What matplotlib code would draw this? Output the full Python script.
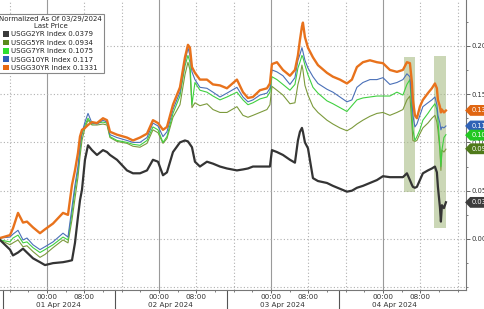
import matplotlib
matplotlib.use("Agg")
import matplotlib.pyplot as plt
import matplotlib.transforms as mtransforms
from matplotlib.patches import Patch, Rectangle, Polygon
from matplotlib.ticker import MultipleLocator, FixedLocator
import numpy as np

# hours from 01 Apr 2024 00:00
hours = [-10.07, -7.93, -7.29, -6.21, -5.14, -4.29, -3.00, -1.50, -0.43, 1.29,
         3.43, 4.50, 5.36, 6.00, 6.64, 7.07, 7.50, 8.14, 8.79, 9.64,
         10.71, 12.00, 12.86, 13.50, 15.00, 17.14, 18.43, 19.93, 21.43, 22.71,
         23.79, 24.86, 25.71, 27.00, 28.50, 29.57, 30.21, 30.64, 31.07, 31.71,
         32.78, 34.28, 35.57, 37.07, 38.57, 40.71, 42.00, 43.07, 44.14, 45.64,
         47.14, 47.78, 48.21, 49.28, 50.57, 52.07, 53.14, 53.78, 54.21, 54.64,
         54.85, 55.28, 55.93, 57.00, 58.07, 60.00, 61.28, 62.78, 64.28, 65.35,
         66.42, 67.71, 69.21, 70.71, 72.00, 73.49, 75.00, 76.28, 77.14, 77.78,
         78.21, 78.42, 78.85, 79.28, 79.92, 80.56, 81.64, 82.49, 83.14, 83.56,
         83.78, 84.21, 84.42, 84.64, 85.07, 85.50]

usgg2yr = [-0.001, -0.011, -0.017, -0.014, -0.010, -0.014, -0.020, -0.024, -0.027, -0.025,
           -0.024, -0.023, -0.022, -0.004, 0.023, 0.040, 0.051, 0.082, 0.097, 0.092,
           0.087, 0.092, 0.090, 0.087, 0.082, 0.071, 0.068, 0.068, 0.071, 0.082,
           0.080, 0.066, 0.069, 0.090, 0.100, 0.102, 0.101, 0.098, 0.095, 0.080,
           0.075, 0.080, 0.078, 0.075, 0.073, 0.071, 0.072, 0.073, 0.075, 0.075,
           0.075, 0.075, 0.092, 0.090, 0.087, 0.082, 0.079, 0.102, 0.111, 0.115,
           0.111, 0.100, 0.094, 0.063, 0.060, 0.058, 0.055, 0.052, 0.049, 0.050,
           0.053, 0.055, 0.058, 0.061, 0.065, 0.064, 0.064, 0.064, 0.068, 0.061,
           0.056, 0.054, 0.053, 0.054, 0.061, 0.068, 0.071, 0.073, 0.075, 0.069,
           0.054, 0.033, 0.018, 0.035, 0.032, 0.038]

usgg5yr = [-0.001, -0.006, -0.004, -0.001, -0.008, -0.007, -0.013, -0.019, -0.016, -0.009,
           -0.001, -0.004, 0.020, 0.042, 0.064, 0.085, 0.102, 0.115, 0.123, 0.118,
           0.118, 0.119, 0.118, 0.105, 0.101, 0.099, 0.096, 0.095, 0.099, 0.113,
           0.110, 0.099, 0.104, 0.126, 0.139, 0.170, 0.183, 0.175, 0.136, 0.141,
           0.138, 0.140, 0.134, 0.131, 0.131, 0.137, 0.128, 0.126, 0.128, 0.131,
           0.134, 0.139, 0.158, 0.154, 0.149, 0.140, 0.141, 0.160, 0.168, 0.180,
           0.175, 0.159, 0.149, 0.137, 0.131, 0.123, 0.119, 0.115, 0.112, 0.115,
           0.119, 0.123, 0.127, 0.130, 0.131, 0.128, 0.131, 0.134, 0.144, 0.148,
           0.118, 0.102, 0.101, 0.102, 0.109, 0.115, 0.120, 0.125, 0.128, 0.121,
           0.113, 0.092, 0.071, 0.092, 0.090, 0.093]

usgg7yr = [-0.001, -0.003, 0.001, 0.004, -0.004, -0.003, -0.009, -0.014, -0.011, -0.006,
           0.002, -0.001, 0.027, 0.051, 0.071, 0.092, 0.108, 0.118, 0.125, 0.119,
           0.120, 0.121, 0.120, 0.106, 0.102, 0.100, 0.098, 0.097, 0.102, 0.116,
           0.113, 0.100, 0.106, 0.130, 0.148, 0.179, 0.190, 0.183, 0.139, 0.162,
           0.154, 0.152, 0.148, 0.144, 0.147, 0.152, 0.144, 0.139, 0.141, 0.145,
           0.147, 0.152, 0.168, 0.165, 0.160, 0.154, 0.160, 0.177, 0.183, 0.190,
           0.188, 0.180, 0.170, 0.157, 0.151, 0.143, 0.140, 0.136, 0.132, 0.138,
           0.144, 0.146, 0.147, 0.148, 0.148, 0.148, 0.152, 0.149, 0.160, 0.165,
           0.130, 0.113, 0.102, 0.106, 0.113, 0.123, 0.130, 0.136, 0.140, 0.134,
           0.123, 0.095, 0.075, 0.092, 0.105, 0.108]

usgg10yr = [0.001, 0.002, 0.005, 0.009, -0.001, 0.001, -0.006, -0.011, -0.008, -0.003,
            0.006, 0.002, 0.033, 0.056, 0.075, 0.097, 0.110, 0.121, 0.130, 0.120,
            0.119, 0.123, 0.121, 0.108, 0.105, 0.102, 0.100, 0.100, 0.105, 0.120,
            0.117, 0.106, 0.111, 0.134, 0.152, 0.183, 0.198, 0.190, 0.173, 0.165,
            0.157, 0.156, 0.152, 0.147, 0.151, 0.157, 0.147, 0.142, 0.144, 0.149,
            0.151, 0.156, 0.175, 0.173, 0.169, 0.160, 0.167, 0.185, 0.191, 0.198,
            0.194, 0.185, 0.177, 0.168, 0.161, 0.155, 0.152, 0.147, 0.142, 0.144,
            0.157, 0.162, 0.165, 0.165, 0.167, 0.160, 0.162, 0.165, 0.171, 0.168,
            0.144, 0.128, 0.116, 0.119, 0.128, 0.137, 0.141, 0.144, 0.147, 0.139,
            0.128, 0.120, 0.113, 0.116, 0.115, 0.117]

usgg30yr = [0.001, 0.004, 0.011, 0.027, 0.017, 0.018, 0.012, 0.006, 0.010, 0.016,
            0.027, 0.025, 0.056, 0.071, 0.089, 0.106, 0.113, 0.115, 0.118, 0.121,
            0.120, 0.125, 0.123, 0.111, 0.108, 0.105, 0.102, 0.105, 0.109, 0.123,
            0.120, 0.113, 0.116, 0.139, 0.157, 0.188, 0.201, 0.198, 0.178, 0.172,
            0.165, 0.165, 0.160, 0.159, 0.156, 0.165, 0.152, 0.146, 0.147, 0.154,
            0.156, 0.161, 0.181, 0.183, 0.175, 0.169, 0.175, 0.190, 0.206, 0.220,
            0.224, 0.209, 0.198, 0.188, 0.180, 0.172, 0.168, 0.165, 0.161, 0.165,
            0.178, 0.183, 0.185, 0.183, 0.182, 0.175, 0.173, 0.175, 0.183, 0.182,
            0.162, 0.144, 0.128, 0.125, 0.137, 0.144, 0.151, 0.156, 0.161, 0.156,
            0.144, 0.137, 0.131, 0.134, 0.131, 0.133]

names = ["USGG2YR Index", "USGG5YR Index", "USGG7YR Index", "USGG10YR Index", "USGG30YR Index"]
last_price = ["0.0379", "0.0934", "0.1075", "0.117", "0.1331"]
tag_text = ["0.038", "0.093", "0.107", "0.117", "0.133"]
day_labels = ["01 Apr 2024", "02 Apr 2024", "03 Apr 2024", "04 Apr 2024"]

# shaded boxes: (start hour, end hour, low, high)
highlights = [(76.5, 78.9, 0.049, 0.188), (82.9, 85.5, 0.011, 0.189)]

line_colors = ["#343434", "#7c9a3c", "#40d040", "#4a70b8", "#e8721c"]
swatch_colors = ["#3a3a3a", "#5a8a1c", "#2fe02f", "#2f5fb8", "#e86a12"]
tag_colors = ["#3c3c3c", "#4f7a1a", "#22c822", "#2f62b6", "#e06612"]
widths = [1.6, 0.8, 0.8, 0.8, 1.7]

plt.rcParams["font.family"] = ["DejaVu Sans"]
fig = plt.figure(figsize=(4.85, 3.09), dpi=100)
ax = fig.add_axes([0, 19 / 309, 466 / 485, 290 / 309])

ax.set_xlim(-10.07, 89.8)
ax.set_ylim(-0.0528, 0.2474)

# gridlines
for d in range(4):
    mid = 24 * d
    ax.axvline(mid, color="#9a9a9a", lw=0.8, zorder=1)
    for h in (mid - 8, mid + 8):
        ax.axvline(h, color="#b0b0b0", lw=0.8, ls=(0, (1, 2)), zorder=1)
ax.axvline(88, color="#b0b0b0", lw=0.8, ls=(0, (1, 2)), zorder=1)
for yv in [-0.05, 0.0, 0.05, 0.10, 0.15, 0.20]:
    ax.axhline(yv, color="#b0b0b0", lw=0.8, ls=(0, (1, 2)), zorder=1)

for x0, x1, lo, hi in highlights:
    ax.add_patch(Rectangle((x0, lo), x1 - x0, hi - lo, facecolor="#a9bd86",
                           alpha=0.6, edgecolor="none", zorder=1.5))

series = [usgg2yr, usgg5yr, usgg7yr, usgg10yr, usgg30yr]
order = [1, 2, 3, 4, 0]
for i in order:
    ax.plot(hours, series[i], color=line_colors[i], lw=widths[i], zorder=3 + order.index(i))

# axes styling
for s in ["left", "top"]:
    ax.spines[s].set_visible(False)
ax.spines["right"].set_color("#777777")
ax.spines["bottom"].set_color("#777777")
ax.spines["right"].set_linewidth(0.8)
ax.spines["bottom"].set_linewidth(0.8)

ax.yaxis.tick_right()
ax.set_yticks([0.0, 0.05, 0.10, 0.15, 0.20])
ax.set_yticklabels(["0.00", "0.05", "0.10", "0.15", "0.20"])
ax.yaxis.set_minor_locator(MultipleLocator(0.025))
ax.tick_params(axis="y", which="major", length=3, width=0.7, color="#666666",
               labelsize=4.9, pad=0.8, labelcolor="#333333")
ax.tick_params(axis="y", which="minor", length=1.5, width=0.6, color="#666666")

xt = []
xl = []
for d in range(4):
    xt += [24 * d, 24 * d + 8]
    xl += ["00:00", "08:00"]
ax.set_xticks(xt)
ax.set_xticklabels(xl)
ax.xaxis.set_minor_locator(FixedLocator([h for h in range(-8, 90, 4)]))
ax.tick_params(axis="x", which="major", length=2.5, width=0.7, color="#666666",
               labelsize=5.2, pad=0.4, labelcolor="#333333")
ax.tick_params(axis="x", which="minor", length=1.5, width=0.6, color="#666666")

# day separators and day labels under the axis
trans = mtransforms.blended_transform_factory(ax.transData, ax.transAxes)
for d, lab in enumerate(day_labels):
    sep = 24 * d - 9.5
    ax.plot([sep, sep], [0, -0.08], color="#555555", lw=0.8, transform=trans, clip_on=False)
    ax.text(sep + 12, -0.051, lab, transform=trans, ha="center", va="center",
            fontsize=5.2, color="#333333")

# last value tags (pointed boxes on the right axis)
tag_trans = mtransforms.blended_transform_factory(ax.transAxes, ax.transData)
last_vals = [0.0379, 0.0934, 0.1075, 0.117, 0.1331]
half = 0.0056
for i in [4, 3, 2, 1, 0]:
    y = last_vals[i]
    pts = [(0.998, y), (1.009, y + half), (1.08, y + half), (1.08, y - half), (1.009, y - half)]
    ax.add_patch(Polygon(pts, closed=True, transform=tag_trans, facecolor=tag_colors[i],
                         edgecolor="none", clip_on=False, zorder=10))
    ax.text(1.011, y, tag_text[i], transform=tag_trans, ha="left", va="center",
            fontsize=4.8, color="white", clip_on=False, zorder=11)

handles = [Patch(facecolor=c, edgecolor="none") for c in swatch_colors]
labels = [n + " " + v for n, v in zip(names, last_price)]
leg = ax.legend(handles, labels, title="Normalized As Of 03/29/2024\nLast Price",
                loc="lower right", bbox_to_anchor=(104 / 485, 1 - 73 / 309),
                bbox_transform=fig.transFigure, fontsize=5.0, title_fontsize=5.0,
                frameon=True, fancybox=False, edgecolor="#888888", framealpha=1,
                handlelength=0.8, handleheight=0.9, handletextpad=0.4,
                labelspacing=0.3, borderpad=0.3, borderaxespad=0)
leg.get_frame().set_linewidth(0.8)
leg.set_zorder(20)
for t in leg.get_texts():
    t.set_color("#222222")
leg.get_title().set_color("#222222")
leg.get_title().set_multialignment("center")

fig.savefig("out.png", dpi=100)
